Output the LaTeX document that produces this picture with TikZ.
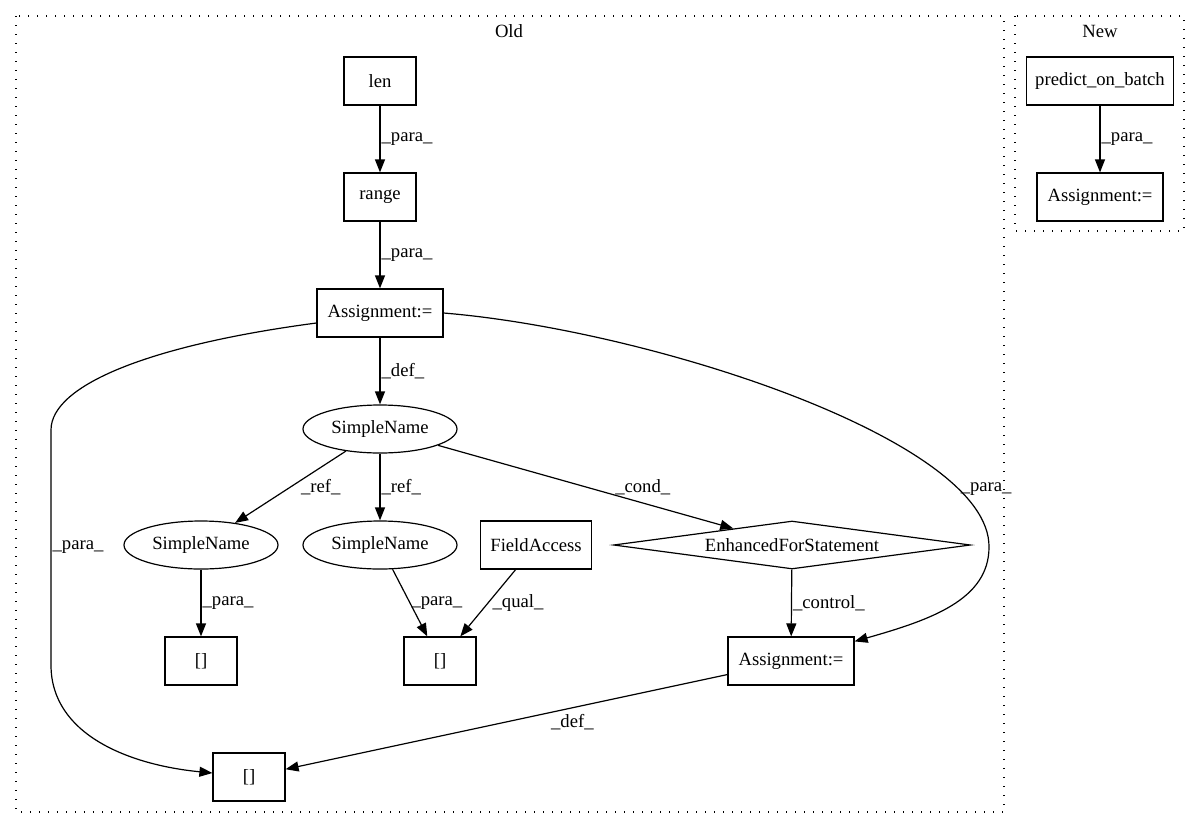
\documentclass[tikz,border=0pt]{standalone}
\usepackage{fontspec}
\setmainfont{Liberation Serif}
\usetikzlibrary{arrows.meta,shapes.geometric}
\begin{document}
\begin{tikzpicture}[x=1pt,y=-1pt,>={Triangle[length=13pt,width=10pt]},
    every node/.style={font=\fontsize{18.67}{22}\selectfont},
    box/.style={draw, line width=1.2pt, minimum height=48pt, inner sep=0pt},
    oval/.style={draw, ellipse, line width=1.2pt, minimum width=154pt, minimum height=48pt, inner sep=0pt},
    edge/.style={->, line width=1.2pt},
    lbl/.style={inner sep=1pt},
    cluster/.style={line width=1.2pt, dash pattern=on 1.3pt off 7.7pt}]
    \useasboundingbox (0,0) rectangle (1197,828);

    % Grupos
    \draw[cluster] (16,16) rectangle (1004,812);
    \node (old) at (509,31) {Old};
    \draw[cluster] (1015,16) rectangle (1184,231);
    \node (new) at (1100,31) {New};

    % Old
    \node[box, minimum width=72pt] (len) at (380,81) {len};
    \node[box, minimum width=72pt] (range) at (380,197) {range};
    \node[box, minimum width=126pt] (assignA) at (380,313) {Assignment:=};
    \node[oval] (nameA) at (380,429) {SimpleName};
    \node[oval] (nameB) at (201,545) {SimpleName};
    \node[oval] (nameC) at (380,545) {SimpleName};
    \node[box, minimum width=111pt] (field) at (536,545) {FieldAccess};
    \node[draw, diamond, aspect=7.44, line width=1.2pt, minimum width=357pt, minimum height=48pt, inner sep=0pt] (efor) at (792,545) {EnhancedForStatement};
    \node[box, minimum width=72pt] (arrB) at (201,661) {[]};
    \node[box, minimum width=72pt] (arrC) at (440,661) {[]};
    \node[box, minimum width=126pt] (assignB) at (791,661) {Assignment:=};
    \node[box, minimum width=72pt] (arrA) at (249,777) {[]};

    % New
    \node[box, minimum width=147pt] (predict) at (1100,81) {predict\_on\_batch};
    \node[box, minimum width=126pt] (assignN) at (1100,197) {Assignment:=};

    % Ligacoes
    \draw[edge] (len) -- (range) node[midway, right, lbl] {\_para\_};
    \draw[edge] (range) -- (assignA) node[midway, right, lbl] {\_para\_};
    \draw[edge] (assignA) -- (nameA) node[midway, right, lbl] {\_def\_};
    \draw[edge] (nameA) -- (nameB) node[midway, right, lbl, xshift=9pt] {\_ref\_};
    \draw[edge] (nameA) -- (nameC) node[midway, right, lbl] {\_ref\_};
    \draw[edge] (nameA) -- (efor) node[midway, right, lbl, xshift=28pt] {\_cond\_};
    \draw[edge] (nameB) -- (arrB) node[midway, right, lbl] {\_para\_};
    \draw[edge] (nameC) -- (arrC) node[midway, right, lbl] {\_para\_};
    \draw[edge] (field) -- (arrC) node[midway, right, lbl, xshift=3pt] {\_qual\_};
    \draw[edge] (efor) -- (assignB) node[midway, right, lbl] {\_control\_};
    \draw[edge] (assignB) -- (arrA) node[midway, right, lbl, xshift=43pt] {\_def\_};
    \draw[edge] ([yshift=-10pt]assignA.west) .. controls (150,345) and (51,385) .. (51,430)
        -- (51,665) node[midway, right, lbl] {\_para\_}
        .. controls (51,735) and (130,765) .. ([yshift=4pt]arrA.west);
    \draw[edge] (assignA.east) .. controls (650,330) and (990,440) .. (989,547)
        node[pos=0.82, anchor=west, lbl] {\_para\_}
        .. controls (989,600) and (930,620) .. ([yshift=-5pt]assignB.north east);
    \draw[edge] (predict) -- (assignN) node[midway, right, lbl] {\_para\_};
\end{tikzpicture}
\end{document}
